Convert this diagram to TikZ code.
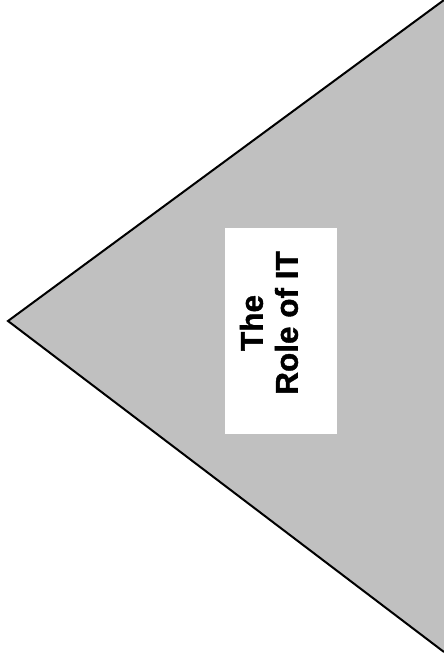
\documentclass[tikz,border=0pt]{standalone}
\usepackage{fontspec}
\setmainfont{Liberation Sans}[BoldFont={Liberation Sans Bold}]
\newfontfamily\lblfont{Liberation Sans Bold}[FakeBold=1.2]
\definecolor{trigray}{HTML}{C0C0C0}
\tikzset{
  tri/.style={draw=black, line width=2pt, line join=miter},
  labelbox/.style={fill=white, draw=none},
  labeltext/.style={rotate=90, align=center, inner sep=0pt, font=\lblfont\fontsize{31.5}{35}\selectfont}
}
\begin{document}
\begin{tikzpicture}[x=1pt,y=1pt]
\useasboundingbox (0,0) rectangle (444,654);
\coordinate (top) at (444,654);
\coordinate (left) at (8,333);
\coordinate (bot) at (444,2);
\fill[trigray] (top) -- (left) -- (bot) -- cycle;
\draw[tri] (top) -- (left) -- (bot);
\fill[labelbox] (225,220) rectangle (337,426);
\node[labeltext] (lbl) at (269,331) {The\\Role of IT};
\end{tikzpicture}
\end{document}
